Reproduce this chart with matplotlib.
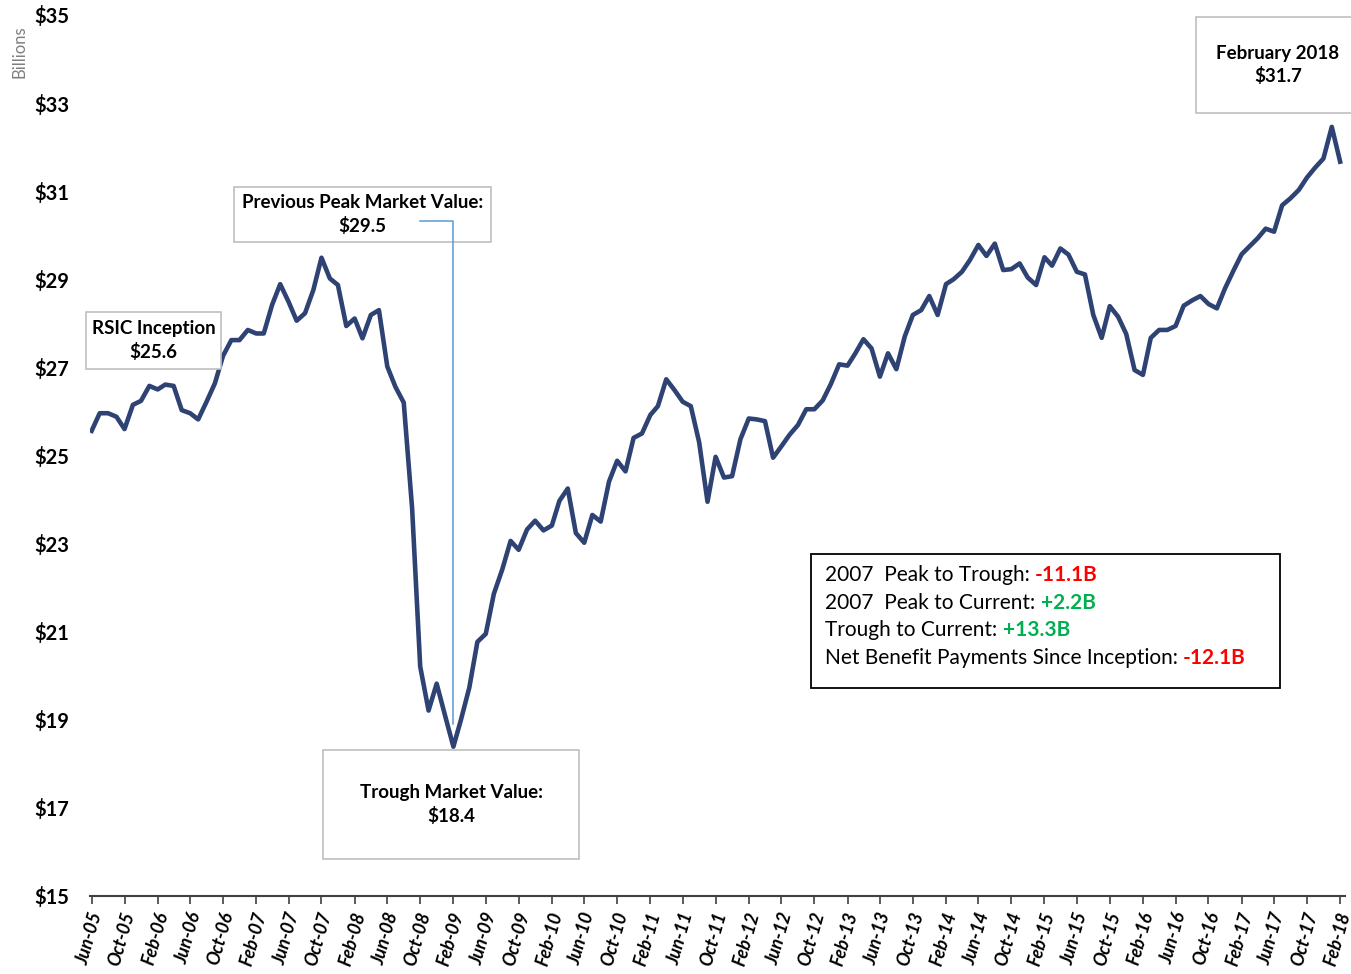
import matplotlib.pyplot as plt
import matplotlib.transforms as mtransforms
import pandas as pd
from matplotlib.patches import Rectangle
from matplotlib.text import Annotation

# monthly market value, billions, Jun-05 .. Feb-18
values = [
    25.56, 25.96, 25.96, 25.88, 25.60, 26.15, 26.24, 26.58, 26.50, 26.61,
    26.58, 26.03, 25.96, 25.82, 26.22, 26.64, 27.26, 27.62, 27.62, 27.85,
    27.77, 27.77, 28.42, 28.89, 28.49, 28.06, 28.23, 28.76, 29.49, 29.02,
    28.87, 27.94, 28.11, 27.66, 28.19, 28.30, 27.02, 26.56, 26.20, 23.80,
    20.21, 19.21, 19.82, 19.10, 18.39, 19.00, 19.73, 20.77, 20.95, 21.86,
    22.41, 23.06, 22.86, 23.32, 23.52, 23.30, 23.41, 23.97, 24.25, 23.24,
    23.02, 23.65, 23.50, 24.41, 24.88, 24.64, 25.40, 25.50, 25.92, 26.12,
    26.73, 26.49, 26.22, 26.12, 25.30, 23.95, 24.97, 24.50, 24.53, 25.37,
    25.84, 25.82, 25.78, 24.95, 25.21, 25.47, 25.69, 26.05, 26.05, 26.25,
    26.62, 27.07, 27.04, 27.31, 27.64, 27.43, 26.79, 27.32, 26.96, 27.70,
    28.19, 28.30, 28.62, 28.19, 28.89, 29.00, 29.17, 29.44, 29.78, 29.53,
    29.81, 29.21, 29.23, 29.36, 29.04, 28.87, 29.50, 29.31, 29.70, 29.56,
    29.17, 29.11, 28.19, 27.67, 28.39, 28.15, 27.76, 26.94, 26.83, 27.67,
    27.85, 27.85, 27.94, 28.40, 28.52, 28.62, 28.44, 28.34, 28.79, 29.19,
    29.57, 29.74, 29.93, 30.15, 30.08, 30.68, 30.84, 31.03, 31.31, 31.54,
    31.74, 32.46, 31.67,
]
dates = pd.date_range('2005-06-01', periods=len(values), freq='MS')

y_ticks = list(range(15, 36, 2))
y_labels = ['$' + str(v) for v in y_ticks]
x_ticks = dates[::4]
x_labels = [d.strftime('%b-%y') for d in x_ticks]

stats_labels = ['2007  Peak to Trough: ', '2007  Peak to Current: ',
                'Trough to Current: ', 'Net Benefit Payments Since Inception: ']
stats_values = ['-11.1B', '+2.2B', '+13.3B', '-12.1B']
stats_colors = ['#FF0000', '#00B050', '#00B050', '#FF0000']

plt.rcParams['font.family'] = ['Lato', 'DejaVu Sans']

W, H = 1351, 974
fig = plt.figure(figsize=(W / 100, H / 100), dpi=100)
ax = fig.add_axes([90 / W, 1 - 896 / H, 1255 / W, 881 / H])


def fx(x):
    return x / W


def fy(y):
    return 1 - y / H


line_color = '#2E4374'
ax.plot(dates, values, color=line_color, lw=3.3, zorder=2)

ax.set_ylim(15, 35)
ax.set_yticks(y_ticks)
ax.set_yticklabels(y_labels, fontsize=14.5, fontweight='bold')
ax.tick_params(axis='y', length=0, pad=15)

ax.set_xlim(dates[0] - pd.Timedelta(days=6), dates[-1] + pd.Timedelta(days=18))
ax.set_xticks(x_ticks)
ax.set_xticklabels(x_labels, rotation=74, ha='right', va='top',
                   rotation_mode='anchor', fontsize=13,
                   fontweight='bold', fontstyle='italic')
ax.tick_params(axis='x', length=6, width=1.2, color='#404040', pad=4)
# nudge the slanted labels a little left so the last one stays inside
shift = mtransforms.ScaledTranslation(-3 / 100, 0, fig.dpi_scale_trans)
for lab in ax.get_xticklabels():
    lab.set_transform(lab.get_transform() + shift)

for s in ['top', 'right', 'left']:
    ax.spines[s].set_visible(False)
ax.spines['bottom'].set_color('#404040')
ax.spines['bottom'].set_linewidth(1.5)

fig.text(fx(19), fy(52), 'Billions', rotation=90, ha='center', va='center',
         fontsize=12, color='#7F7F7F')


def note_box(x0, y0, x1, y1, text, edge='#BFBFBF', lw=1.2):
    ax.add_patch(Rectangle((fx(x0), fy(y1)), fx(x1 - x0), (y1 - y0) / H,
                           transform=fig.transFigure, facecolor='white',
                           edgecolor=edge, lw=lw, zorder=3, clip_on=False))
    ax.text(fx((x0 + x1) / 2), fy((y0 + y1) / 2), text, ha='center',
            va='center', fontsize=13.5, fontweight='bold',
            linespacing=1.4, zorder=4, transform=fig.transFigure)


note_box(86, 312, 221, 369, 'RSIC Inception\n$25.6')
note_box(234, 187, 491, 242, 'Previous Peak Market Value:\n$29.5')
note_box(323, 750, 579, 859, 'Trough Market Value:\n$18.4')
note_box(1196, 17, 1360, 113, 'February 2018\n$31.7')

# connector from peak box to trough
trough = dates[44]
ax.plot([dates[40], trough, trough], [30.32, 30.32, 18.9],
        color='#5B9BD5', lw=1.1, zorder=5)

# stats box
fig.patches.append(Rectangle((fx(811), fy(688)), fx(1280 - 811), (688 - 554) / H,
                             transform=fig.transFigure, facecolor='white',
                             edgecolor='black', lw=1.3, zorder=5))
for i in range(len(stats_labels)):
    ypos = fy(575 + i * 27.7)
    t = fig.text(fx(825), ypos, stats_labels[i], ha='left', va='center',
                 fontsize=15, zorder=6)
    a = Annotation(stats_values[i], xy=(1, 0.5), xycoords=t, ha='left',
                   va='center', fontsize=15, fontweight='bold',
                   color=stats_colors[i], annotation_clip=False)
    a.set_zorder(6)
    fig.add_artist(a)

fig.savefig('out.png', dpi=100)
